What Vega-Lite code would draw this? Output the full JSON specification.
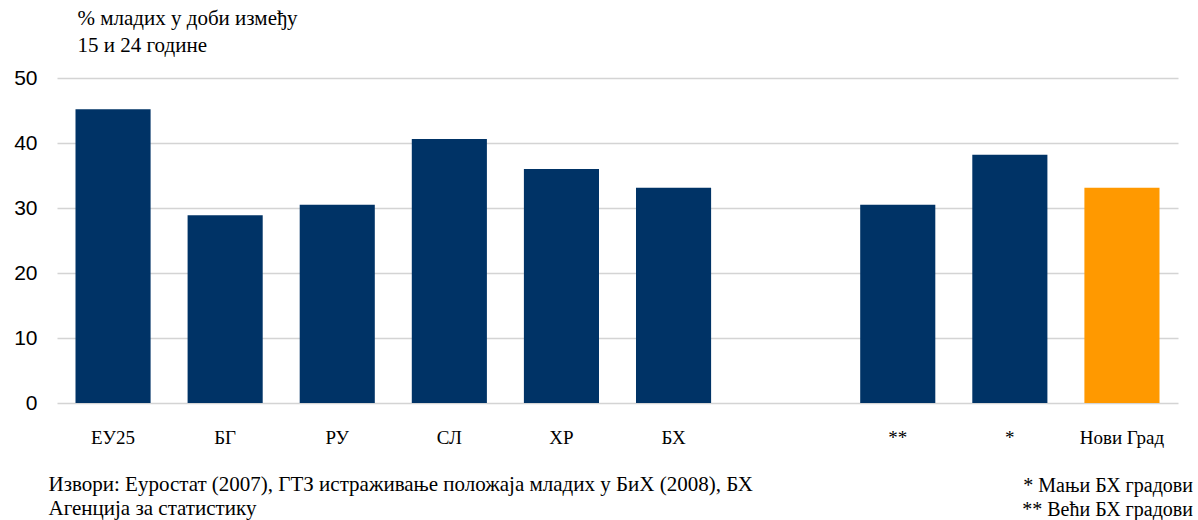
{
  "$schema": "https://vega.github.io/schema/vega-lite/v6.json",
  "width": 1121,
  "height": 325,
  "autosize": {"type": "none"},
  "padding": {"left": 57, "top": 78, "right": 20, "bottom": 117},
  "background": "white",
  "config": {"view": {"stroke": null}},
  "title": {
    "text": ["* Мањи БХ градови", "** Већи БХ градови"],
    "orient": "bottom",
    "anchor": "end",
    "align": "right",
    "font": "Liberation Serif",
    "fontSize": 20,
    "fontWeight": "normal",
    "color": "#000000",
    "lineHeight": 24,
    "baseline": "top",
    "dx": 15,
    "dy": -42,
    "offset": 0
  },
  "data": {
    "values": [
      {"podrucje": "ЕУ25", "procenat": 45.2, "grupa": "ostalo"},
      {"podrucje": "БГ", "procenat": 28.9, "grupa": "ostalo"},
      {"podrucje": "РУ", "procenat": 30.5, "grupa": "ostalo"},
      {"podrucje": "СЛ", "procenat": 40.6, "grupa": "ostalo"},
      {"podrucje": "ХР", "procenat": 36.0, "grupa": "ostalo"},
      {"podrucje": "БХ", "procenat": 33.1, "grupa": "ostalo"},
      {"podrucje": "**", "procenat": 30.5, "grupa": "ostalo"},
      {"podrucje": "*", "procenat": 38.2, "grupa": "ostalo"},
      {"podrucje": "Нови Град", "procenat": 33.1, "grupa": "Нови Град"}
    ]
  },
  "mark": {"type": "bar"},
  "encoding": {
    "x": {
      "field": "podrucje",
      "type": "nominal",
      "sort": null,
      "scale": {
        "domain": ["ЕУ25", "БГ", "РУ", "СЛ", "ХР", "БХ", " ", "**", "*", "Нови Град"],
        "paddingInner": 0.33,
        "paddingOuter": 0.165
      },
      "axis": {
        "title": ["Извори: Еуростат (2007), ГТЗ истраживање положаја младих у БиХ (2008), БХ", "Агенција за статистику"],
        "titleFont": "Liberation Serif",
        "titleFontSize": 21,
        "titleFontWeight": "normal",
        "titleColor": "#000000",
        "titleAlign": "left",
        "titleBaseline": "top",
        "titleLineHeight": 24,
        "titleX": -9,
        "titleY": 70,
        "labelAngle": 0,
        "labelFont": "Liberation Serif",
        "labelFontSize": 19,
        "labelColor": "#000000",
        "labelPadding": 25,
        "labelBaseline": "top",
        "ticks": false,
        "domain": false,
        "grid": false
      }
    },
    "y": {
      "field": "procenat",
      "type": "quantitative",
      "scale": {"domain": [0, 50], "nice": false},
      "axis": {
        "values": [0, 10, 20, 30, 40, 50],
        "title": ["% младих у доби између", "15 и 24 године"],
        "titleFont": "Liberation Serif",
        "titleFontSize": 21,
        "titleFontWeight": "normal",
        "titleColor": "#000000",
        "titleAngle": 0,
        "titleAlign": "left",
        "titleBaseline": "top",
        "titleLineHeight": 27,
        "titleX": 20,
        "titleY": -71,
        "labelFont": "Liberation Sans",
        "labelFontSize": 21,
        "labelColor": "#000000",
        "labelPadding": 20,
        "ticks": false,
        "domain": false,
        "grid": true,
        "gridColor": "#d4d4d4",
        "gridWidth": 1.5
      }
    },
    "color": {
      "field": "grupa",
      "type": "nominal",
      "scale": {"domain": ["ostalo", "Нови Град"], "range": ["#003366", "#ff9900"]},
      "legend": null
    }
  }
}
